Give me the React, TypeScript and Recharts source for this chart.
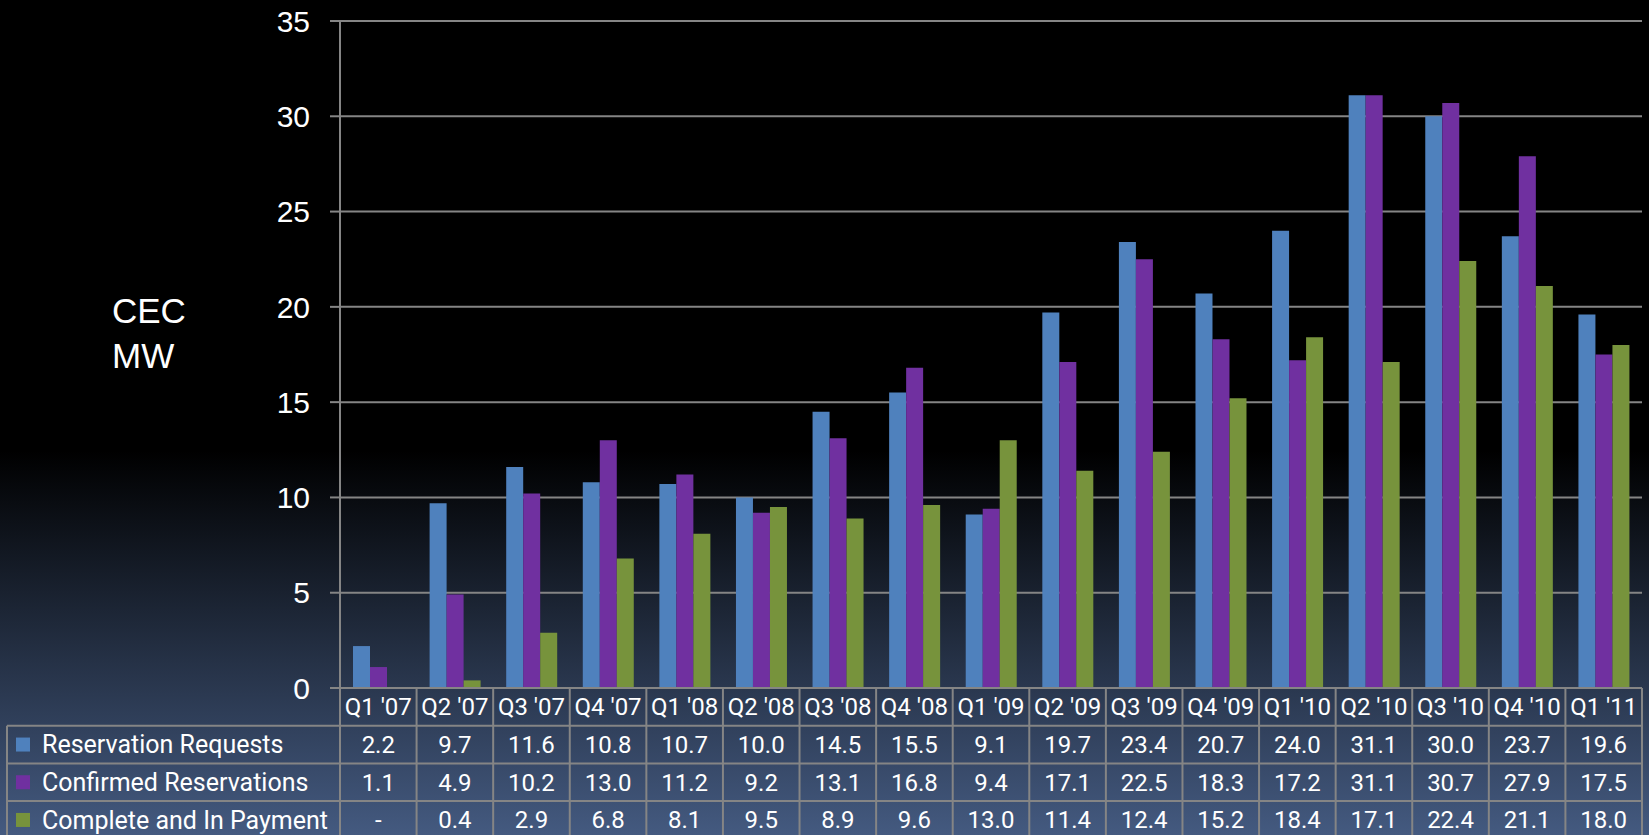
import { BarChart, Bar, XAxis, YAxis, CartesianGrid } from "recharts";

const quarters = [
  "Q1 '07", "Q2 '07", "Q3 '07", "Q4 '07", "Q1 '08", "Q2 '08", "Q3 '08", "Q4 '08", "Q1 '09",
  "Q2 '09", "Q3 '09", "Q4 '09", "Q1 '10", "Q2 '10", "Q3 '10", "Q4 '10", "Q1 '11",
];
const reservationRequests = [2.2, 9.7, 11.6, 10.8, 10.7, 10.0, 14.5, 15.5, 9.1, 19.7, 23.4, 20.7, 24.0, 31.1, 30.0, 23.7, 19.6];
const confirmedReservations = [1.1, 4.9, 10.2, 13.0, 11.2, 9.2, 13.1, 16.8, 9.4, 17.1, 22.5, 18.3, 17.2, 31.1, 30.7, 27.9, 17.5];
const completeInPayment: (number | null)[] = [null, 0.4, 2.9, 6.8, 8.1, 9.5, 8.9, 9.6, 13.0, 11.4, 12.4, 15.2, 18.4, 17.1, 22.4, 21.1, 18.0];
const yTicks = [0, 5, 10, 15, 20, 25, 30, 35];

const seriesNames = ["Reservation Requests", "Confirmed Reservations", "Complete and In Payment"];
const seriesColors = ["#4f81bd", "#7030a0", "#77933c"];
const seriesValues = [reservationRequests, confirmedReservations, completeInPayment];

const data = quarters.map((quarter, i) => ({
  quarter,
  requests: reservationRequests[i],
  confirmed: confirmedReservations[i],
  complete: completeInPayment[i],
}));

const W = 1649;
const H = 835;
const PLOT_LEFT = 340;
const PLOT_RIGHT = 1642;
const TABLE_H = 147;
const ROW_H = 37.7;
const TABLE_LEFT = 7;
const LINE = "#858585";
const TABLE_FONT = "Roboto, 'Noto Sans', sans-serif";
const AXIS_FONT = "'Liberation Sans', Arial, sans-serif";

const fmt = (v: number | null) => (v == null ? "-" : v.toFixed(1));

// one data-table column per category, hung off the x-axis tick
function TableColumn(props: any) {
  const { x, y, payload } = props;
  const i: number = props.index ?? payload.index;
  const band = (PLOT_RIGHT - PLOT_LEFT) / quarters.length;
  const left = x - band / 2;
  const right = x + band / 2;
  const bottom = y + 5 * ROW_H;
  const textStyle = { fill: "#fff", fontSize: 24, fontFamily: TABLE_FONT };
  const legendStyle = { ...textStyle, fontSize: 25 };

  return (
    <g>
      <line x1={left} x2={left} y1={y} y2={bottom} stroke={LINE} strokeWidth={2} />
      {i === quarters.length - 1 && (
        <line x1={right} x2={right} y1={y} y2={bottom} stroke={LINE} strokeWidth={2} />
      )}
      {[1, 2, 3].map((r) => (
        <line key={r} x1={left} x2={right} y1={y + r * ROW_H} y2={y + r * ROW_H} stroke={LINE} strokeWidth={2} />
      ))}
      <text x={x} y={y + ROW_H / 2} dy="0.35em" textAnchor="middle" style={textStyle}>
        {payload.value}
      </text>
      {seriesValues.map((vals, r) => (
        <text key={r} x={x} y={y + (r + 1.5) * ROW_H} dy="0.35em" textAnchor="middle" style={textStyle}>
          {fmt(vals[i])}
        </text>
      ))}
      {i === 0 && (
        <g>
          <line x1={TABLE_LEFT} x2={TABLE_LEFT} y1={y + ROW_H} y2={bottom} stroke={LINE} strokeWidth={2} />
          {[1, 2, 3].map((r) => (
            <line key={r} x1={TABLE_LEFT} x2={left} y1={y + r * ROW_H} y2={y + r * ROW_H} stroke={LINE} strokeWidth={2} />
          ))}
          {seriesNames.map((name, r) => {
            const cy = y + (r + 1.5) * ROW_H;
            return (
              <g key={name}>
                <rect x={16} y={cy - 7} width={14} height={14} fill={seriesColors[r]} />
                <text x={42} y={cy} dy="0.35em" textAnchor="start" style={legendStyle}>
                  {name}
                </text>
              </g>
            );
          })}
        </g>
      )}
    </g>
  );
}

export default function App() {
  return (
    <div
      style={{
        position: "absolute",
        left: 0,
        top: 0,
        width: W,
        height: H,
        overflow: "hidden",
        background: "linear-gradient(to bottom, #000 0%, #000 54%, #445a80 100%)",
      }}
    >
      <div
        style={{
          position: "absolute",
          left: 112,
          top: 288,
          color: "#fff",
          fontFamily: AXIS_FONT,
          fontSize: 35,
          lineHeight: "45px",
        }}
      >
        CEC
        <br />
        MW
      </div>
      <BarChart
        width={W}
        height={H}
        data={data}
        margin={{ top: 21, right: W - PLOT_RIGHT, left: PLOT_LEFT - 80, bottom: 0 }}
        barCategoryGap="17%"
        barGap={0}
      >
        <CartesianGrid vertical={false} stroke={LINE} strokeWidth={2} />
        <XAxis
          dataKey="quarter"
          interval={0}
          height={TABLE_H}
          tickLine={false}
          tickSize={0}
          tickMargin={0}
          axisLine={{ stroke: LINE, strokeWidth: 2 }}
          tick={<TableColumn />}
        />
        <YAxis
          width={80}
          domain={[0, 35]}
          ticks={yTicks}
          interval={0}
          tickSize={10}
          tickMargin={20}
          axisLine={{ stroke: LINE, strokeWidth: 2 }}
          tickLine={{ stroke: LINE, strokeWidth: 2 }}
          tick={{ fill: "#fff", fontSize: 30, fontFamily: AXIS_FONT }}
        />
        <Bar dataKey="requests" name={seriesNames[0]} fill={seriesColors[0]} isAnimationActive={false} />
        <Bar dataKey="confirmed" name={seriesNames[1]} fill={seriesColors[1]} isAnimationActive={false} />
        <Bar dataKey="complete" name={seriesNames[2]} fill={seriesColors[2]} isAnimationActive={false} />
      </BarChart>
    </div>
  );
}
